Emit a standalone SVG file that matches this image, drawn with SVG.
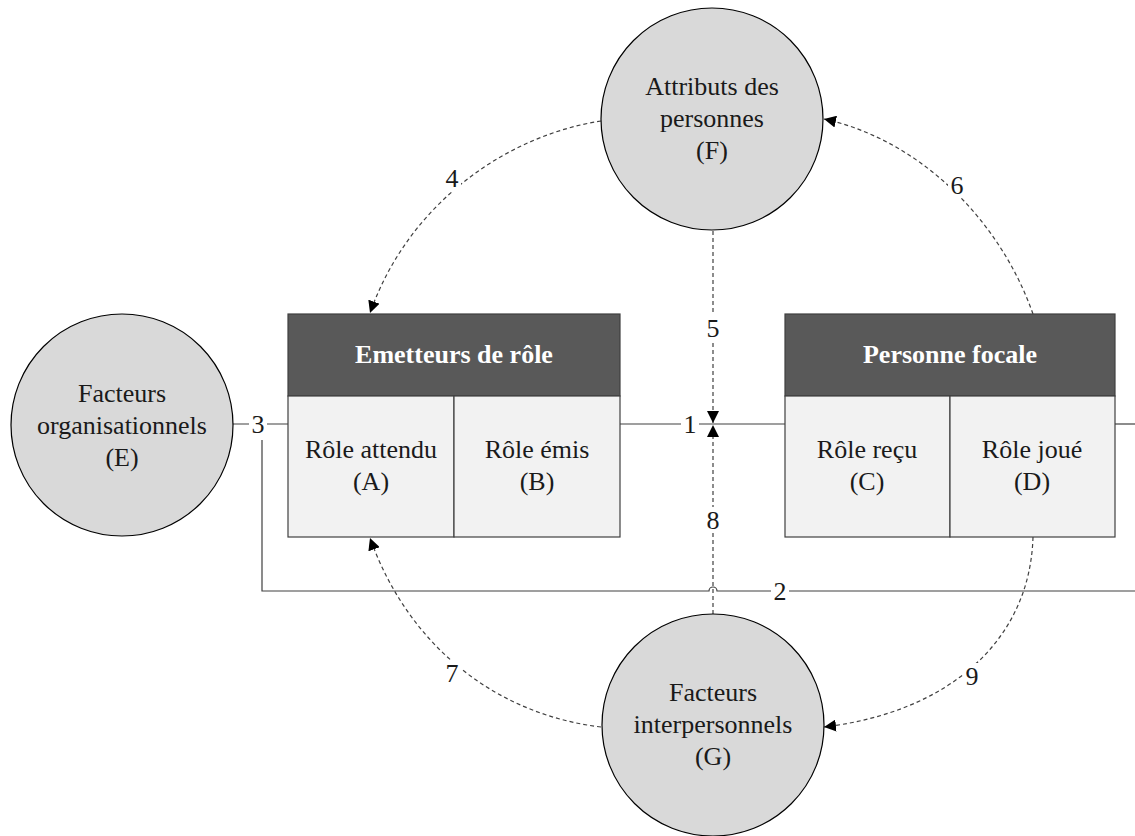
<svg xmlns="http://www.w3.org/2000/svg" width="1135" height="836" viewBox="0 0 1135 836">
<defs>
<style>
.c{fill:#d9d9d9;stroke:#000;stroke-width:1.2}
.h{fill:#595959;stroke:#404040;stroke-width:1.2}
.b{fill:#f2f2f2;stroke:#404040;stroke-width:1.2}
.t{font-family:"Liberation Serif",serif;font-size:26px;fill:#1a1a1a;text-anchor:middle}
.th{font-family:"Liberation Serif",serif;font-size:26px;font-weight:bold;fill:#fff;text-anchor:middle}
.l{font-family:"Liberation Serif",serif;font-size:26px;fill:#1a1a1a;text-anchor:middle}
.s{fill:none;stroke:#404040;stroke-width:1.2}
.d{fill:none;stroke:#404040;stroke-width:1.2;stroke-dasharray:4 3}
.bg{fill:#fff}
</style>
<marker id="ah" viewBox="0 0 12 12" refX="12" refY="6" markerWidth="12" markerHeight="12" markerUnits="userSpaceOnUse" orient="auto"><path d="M0,0 L12,6 L0,12 z" fill="#000"/></marker>
</defs>
<g id="connectors">
<path class="s" d="M233,424 H288"/>
<path class="s" d="M620,424 H713"/>
<path class="s" d="M713,424 H785"/>
<path class="s" d="M1115,424 H1135"/>
<path class="s" d="M262,440 V591 H709 A4,4 0 0 1 717,591 H1135"/>
<path class="d" d="M713,231 V423" marker-end="url(#ah)"/>
<path class="d" d="M713,614 V425" marker-end="url(#ah)"/>
<path class="d" d="M601,121 C510,135 410,200 370,313" marker-end="url(#ah)"/>
<path class="d" d="M1033,314 C1000,220 920,140 824,119" marker-end="url(#ah)"/>
<path class="d" d="M601,727 C500,715 410,650 370,538" marker-end="url(#ah)"/>
<path class="d" d="M1033,537 C1030,640 950,712 824,727" marker-end="url(#ah)"/>
<rect class="bg" x="249" y="411" width="18" height="26"/><text class="l" x="258" y="433">3</text>
<rect class="bg" x="681" y="411" width="18" height="26"/><text class="l" x="690" y="433">1</text>
<rect class="bg" x="771" y="578" width="18" height="26"/><text class="l" x="780" y="600">2</text>
<rect class="bg" x="443" y="165" width="18" height="26"/><text class="l" x="452" y="187">4</text>
<rect class="bg" x="704" y="315" width="18" height="26"/><text class="l" x="713" y="337">5</text>
<rect class="bg" x="948" y="172" width="18" height="26"/><text class="l" x="957" y="194">6</text>
<rect class="bg" x="443" y="660" width="18" height="26"/><text class="l" x="452" y="682">7</text>
<rect class="bg" x="704" y="507" width="18" height="26"/><text class="l" x="713" y="529">8</text>
<rect class="bg" x="963" y="663" width="18" height="26"/><text class="l" x="972" y="685">9</text>
</g>
<g id="F">
<circle class="c" cx="712" cy="119" r="111"/>
<text class="t" x="712" y="95">Attributs des</text>
<text class="t" x="712" y="127">personnes</text>
<text class="t" x="712" y="159">(F)</text>
</g>
<g id="E">
<circle class="c" cx="122" cy="425" r="111"/>
<text class="t" x="122" y="402">Facteurs</text>
<text class="t" x="122" y="434">organisationnels</text>
<text class="t" x="122" y="466">(E)</text>
</g>
<g id="G">
<circle class="c" cx="713" cy="725" r="111"/>
<text class="t" x="713" y="701">Facteurs</text>
<text class="t" x="713" y="733">interpersonnels</text>
<text class="t" x="713" y="765">(G)</text>
</g>
<g id="emetteurs">
<rect class="h" x="288" y="314" width="332" height="82"/>
<text class="th" x="454" y="363">Emetteurs de rôle</text>
<rect class="b" x="288" y="396" width="166" height="141"/>
<rect class="b" x="454" y="396" width="166" height="141"/>
<text class="t" x="371" y="458">Rôle attendu</text>
<text class="t" x="371" y="490">(A)</text>
<text class="t" x="537" y="458">Rôle émis</text>
<text class="t" x="537" y="490">(B)</text>
</g>
<g id="focale">
<rect class="h" x="785" y="314" width="330" height="82"/>
<text class="th" x="950" y="363">Personne focale</text>
<rect class="b" x="785" y="396" width="165" height="141"/>
<rect class="b" x="950" y="396" width="165" height="141"/>
<text class="t" x="867" y="458">Rôle reçu</text>
<text class="t" x="867" y="490">(C)</text>
<text class="t" x="1032" y="458">Rôle joué</text>
<text class="t" x="1032" y="490">(D)</text>
</g>
</svg>
